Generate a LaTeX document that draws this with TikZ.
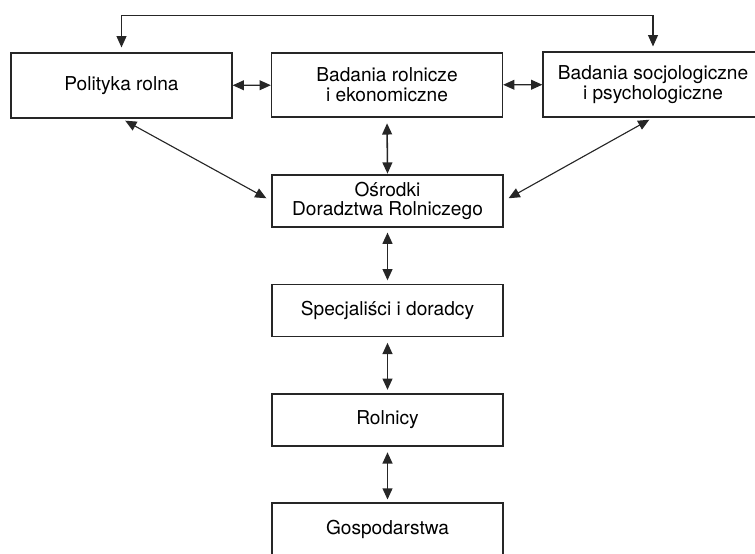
\documentclass[tikz,border=0pt]{standalone}
\usepackage{fontspec}
\setmainfont{TeX Gyre Heros}
\usetikzlibrary{arrows.meta}

\begin{document}
\begin{tikzpicture}[x=0.025cm, y=-0.025cm,
		>={Triangle[length=8pt, width=7pt]},
		box/.style={draw=black!85, line width=0.9pt, align=center, inner sep=0pt, font=\fontsize{13.6}{14}\selectfont},
		wide/.style={box, minimum width=5.775cm, minimum height=1.3cm},
		link/.style={<->, line width=0.8pt, draw=black!85},
		vlink/.style={link, line width=1.1pt}]
		\useasboundingbox (0,0) rectangle (755,553);
		
		% Nodes
		\node[box, minimum width=5.525cm, minimum height=1.625cm] (pol) at (121.5,85.5) {Polityka rolna};
		\node[box, minimum width=5.775cm, minimum height=1.6cm] (bad) at (387,85) {Badania rolnicze\\i ekonomiczne};
		\node[box, minimum width=5.5cm, minimum height=1.625cm] (soc) at (653,84.5) {Badania socjologiczne\\i psychologiczne};
		\node[wide] (osr) at (387.5,201) {Ośrodki\\Doradztwa Rolniczego};
		\node[wide] (spe) at (387.5,310.5) {Specjaliści i doradcy};
		\node[wide] (rol) at (387.5,420) {Rolnicy};
		\node[wide] (gos) at (387.5,529) {Gospodarstwa};
		
		% Edges
		\draw[link, shorten <=3.5pt, shorten >=3.5pt] (pol.north) -- ++(0,-37) -| (soc.north);
		\draw[link] (pol) -- (bad);
		\draw[link] (bad) -- (soc);
		\draw[link, shorten <=3pt, shorten >=4pt] (pol.south) -- (osr.west);
		\draw[link, shorten <=3pt, shorten >=4pt] (soc.south) -- (osr.east);
		\draw[vlink, shorten <=4pt, shorten >=0.5pt] (bad.south) -- (osr.north);
		\draw[vlink, shorten <=3.5pt, shorten >=2.5pt] (osr.south) -- (spe.north);
		\draw[vlink, shorten <=4pt, shorten >=2.5pt] (spe.south) -- (rol.north);
		\draw[vlink, shorten <=4pt, shorten >=2pt] (rol.south) -- (gos.north);
	\end{tikzpicture}
\end{document}
